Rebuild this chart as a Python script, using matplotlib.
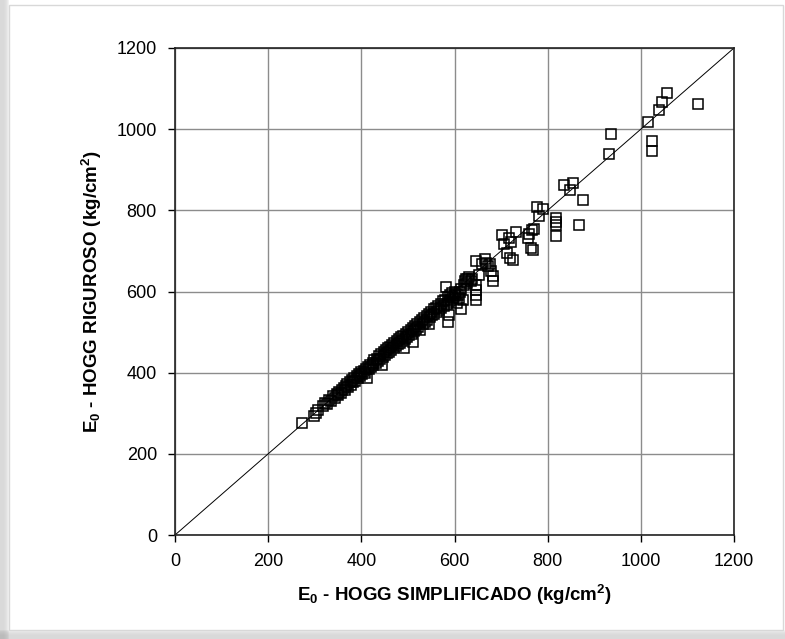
import numpy as np
import matplotlib.pyplot as plt
from matplotlib.patches import Rectangle

plt.rcParams['font.family'] = ['Liberation Sans', 'DejaVu Sans']
plt.rcParams['mathtext.default'] = 'regular'

# Valores (kg/cm2)
e0_simplificado = [
    273, 298, 303, 306, 318, 322, 326, 330, 335, 340, 343, 347, 350, 352, 356,
    358, 362, 365, 367, 370, 372, 375, 377, 380, 382, 385, 387, 390, 392, 395,
    398, 400, 402, 405, 408, 410, 412, 414, 416, 419, 421, 424, 426, 428, 431,
    433, 436, 438, 440, 443, 444, 446, 448, 450, 452, 455, 457, 459, 462, 464,
    466, 469, 471, 474, 476, 479, 481, 484, 486, 488, 490, 492, 494, 496, 499,
    501, 503, 506, 508, 510, 511, 513, 515, 518, 520, 522, 525, 527, 530, 532,
    535, 537, 540, 542, 545, 546, 548, 550, 552, 555, 557, 560, 562, 565, 567,
    570, 572, 575, 577, 580, 582, 583, 585, 586, 588, 589, 590, 593, 595, 597,
    600, 602, 604, 606, 608, 610, 612, 614, 615, 618, 620, 622, 624, 627, 630,
    632, 635, 638, 646, 646, 646, 646, 647, 652, 660, 665, 668, 672, 676, 679,
    682, 682, 703, 706, 713, 717, 719, 721, 725, 733, 758, 760, 764, 766, 769,
    771, 778, 782, 791, 817, 817, 817, 817, 834, 847, 854, 867, 875, 932, 935,
    1016, 1025, 1025, 1039, 1045, 1057, 1122,
]
e0_riguroso = [
    276, 293, 300, 308, 318, 326, 322, 332, 330, 342, 338, 348, 344, 352, 350,
    358, 362, 357, 368, 372, 365, 376, 370, 381, 376, 386, 380, 392, 386, 396,
    392, 401, 396, 405, 400, 410, 388, 414, 408, 420, 414, 425, 418, 430, 424,
    434, 428, 440, 433, 445, 420, 438, 450, 443, 455, 448, 460, 452, 464, 456,
    468, 460, 472, 466, 477, 470, 482, 474, 487, 478, 491, 462, 484, 495, 488,
    500, 492, 505, 496, 510, 475, 502, 515, 508, 520, 512, 524, 505, 530, 520,
    535, 526, 540, 530, 545, 520, 536, 550, 542, 556, 545, 560, 550, 565, 555,
    570, 560, 576, 565, 580, 611, 570, 586, 524, 575, 541, 592, 580, 596, 585,
    600, 588, 595, 572, 592, 585, 598, 557, 605, 580, 615, 625, 632, 622, 630,
    635, 625, 630, 616, 604, 592, 579, 674, 640, 668, 680, 670, 662, 668, 650,
    637, 627, 739, 717, 696, 733, 683, 721, 678, 747, 733, 742, 708, 752, 702,
    754, 807, 785, 804, 782, 772, 763, 736, 862, 850, 868, 764, 825, 939, 987,
    1017, 971, 946, 1048, 1068, 1090, 1062,
]
ticks = [0, 200, 400, 600, 800, 1000, 1200]

fig = plt.figure(figsize=(7.85, 6.39), dpi=100)

# marco con sombra alrededor de la figura (detras de los ejes)
for i, a in enumerate([0.10, 0.08, 0.06, 0.04, 0.03, 0.02]):
    fig.add_artist(Rectangle((0, 0), (9 - i) / 785, 1, transform=fig.transFigure,
                             facecolor='gray', edgecolor='none', alpha=a,
                             zorder=-3))
    fig.add_artist(Rectangle((0, 0), 1, (9 - i) / 639, transform=fig.transFigure,
                             facecolor='gray', edgecolor='none', alpha=a,
                             zorder=-3))
fig.add_artist(Rectangle((9 / 785, 9 / 639), 774 / 785, 625 / 639,
                         transform=fig.transFigure, facecolor='white',
                         edgecolor='#d8d8d8', linewidth=1.0, zorder=-2))

ax = fig.add_axes([175 / 785, 1 - 535 / 639, 559 / 785, 487 / 639])
ax.plot([0, 1200], [0, 1200], color='black', linewidth=0.7, zorder=2)
ax.plot(e0_simplificado, e0_riguroso, linestyle='none', marker='s',
        markersize=7.0, markerfacecolor='none', markeredgecolor='black',
        markeredgewidth=1.1, zorder=3)

ax.set_xlim(0, 1200)
ax.set_ylim(0, 1200)
ax.set_xticks(ticks)
ax.set_yticks(ticks)
ax.grid(True, color='#8c8c8c', linewidth=1.0)
ax.set_axisbelow(True)
for s in ax.spines.values():
    s.set_linewidth(1.2)
    s.set_color('#222222')
ax.tick_params(direction='out', length=5, width=1.0, labelsize=13, pad=8)

ax.set_xlabel(r'E$_0$ - HOGG SIMPLIFICADO (kg/cm$^2$)', fontsize=13.5,
              fontweight='bold', labelpad=9)
ax.set_ylabel(r'E$_0$ - HOGG RIGUROSO (kg/cm$^2$)', fontsize=13.5,
              fontweight='bold', labelpad=9)

fig.savefig('out.png', dpi=100)
